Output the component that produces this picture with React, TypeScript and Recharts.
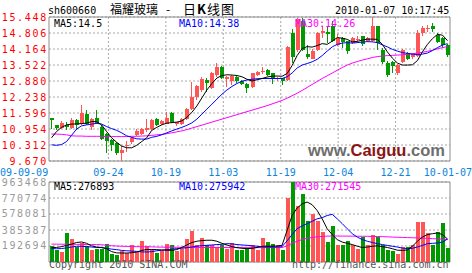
import React from 'react';
import {
  ComposedChart,
  Bar,
  Line,
  XAxis,
  YAxis,
  CartesianGrid,
  ReferenceArea,
} from 'recharts';

// trading days 2009-09-09 .. 2010-01-07
const dates = [
  '09-09', '09-10', '09-11', '09-14', '09-15', '09-16', '09-17', '09-18', '09-21', '09-22',
  '09-23', '09-24', '09-25', '09-28', '09-29', '09-30', '10-09', '10-12', '10-13', '10-14',
  '10-15', '10-16', '10-19', '10-20', '10-21', '10-22', '10-23', '10-26', '10-27', '10-28',
  '10-29', '10-30', '11-02', '11-03', '11-04', '11-05', '11-06', '11-09', '11-10', '11-11',
  '11-12', '11-13', '11-16', '11-17', '11-18', '11-19', '11-20', '11-23', '11-24', '11-25',
  '11-26', '11-27', '11-30', '12-01', '12-02', '12-03', '12-04', '12-07', '12-08', '12-09',
  '12-10', '12-11', '12-14', '12-15', '12-16', '12-17', '12-18', '12-21', '12-22', '12-23',
  '12-24', '12-25', '12-28', '12-29', '12-30', '12-31', '01-04', '01-05', '01-06', '01-07',
];

const open = [
  11.38, 11.10, 10.99, 11.12, 11.00, 11.30, 11.15, 11.55, 11.02, 11.40,
  11.05, 10.75, 10.50, 10.40, 9.98, 10.25, 10.41, 10.73, 10.73, 10.90,
  10.96, 11.36, 11.15, 11.16, 11.59, 11.13, 11.16, 11.35, 11.75, 12.24,
  12.50, 12.91, 12.60, 13.12, 13.45, 12.95, 12.90, 13.05, 12.88, 12.75,
  12.63, 13.12, 13.25, 13.32, 13.19, 12.95, 12.99, 12.95, 14.80, 14.10,
  15.30, 13.95, 13.79, 14.13, 14.80, 14.85, 15.10, 14.33, 14.60, 14.47,
  14.40, 14.55, 14.67, 14.47, 14.47, 15.07, 14.13, 13.62, 13.66, 13.18,
  13.66, 13.99, 13.82, 13.86, 14.80, 14.95, 15.07, 14.74, 14.60, 14.33,
];
const high = [
  11.40, 11.12, 11.27, 11.25, 11.38, 11.35, 11.93, 11.70, 11.40, 11.70,
  11.10, 10.80, 10.55, 10.42, 10.27, 10.48, 10.62, 10.95, 10.98, 11.35,
  11.36, 11.40, 11.30, 11.63, 11.62, 11.25, 11.38, 11.80, 12.85, 12.70,
  13.05, 13.00, 13.25, 13.62, 13.50, 13.10, 13.12, 13.10, 12.92, 12.78,
  13.22, 13.30, 13.46, 13.35, 13.20, 13.05, 13.00, 14.30, 14.95, 15.40,
  15.40, 14.33, 14.15, 14.85, 15.07, 15.07, 15.30, 14.75, 14.65, 14.50,
  14.65, 14.67, 14.70, 14.65, 15.448, 15.10, 14.20, 13.70, 13.70, 13.55,
  14.18, 14.05, 14.00, 14.92, 15.10, 15.14, 15.20, 14.80, 14.65, 14.36,
];
const low = [
  10.95, 10.92, 10.96, 10.90, 10.95, 10.93, 11.10, 11.10, 10.90, 11.15,
  10.50, 10.00, 10.08, 9.93, 9.67, 10.05, 10.35, 10.67, 10.70, 10.85,
  10.92, 11.08, 11.12, 11.14, 11.20, 11.08, 11.12, 11.30, 11.72, 12.10,
  12.45, 12.45, 12.55, 13.05, 12.95, 12.65, 12.70, 12.80, 12.70, 12.40,
  12.60, 13.08, 13.15, 13.10, 12.75, 12.90, 12.72, 12.90, 13.60, 14.05,
  14.10, 13.76, 13.75, 14.10, 14.60, 14.40, 14.45, 14.30, 14.20, 13.95,
  14.35, 14.40, 14.30, 14.45, 14.45, 14.13, 13.55, 13.05, 13.20, 13.12,
  13.60, 13.72, 13.78, 13.84, 14.70, 14.85, 14.85, 14.40, 14.20, 13.85,
];
const close = [
  11.30, 10.98, 11.20, 11.05, 11.32, 11.10, 11.60, 11.15, 11.35, 11.20,
  10.55, 10.48, 10.28, 9.98, 10.10, 10.30, 10.58, 10.88, 10.95, 11.00,
  11.32, 11.12, 11.27, 11.40, 11.23, 11.22, 11.36, 11.77, 12.24, 12.67,
  12.95, 12.78, 13.20, 13.45, 12.99, 13.05, 13.10, 12.89, 12.75, 12.58,
  13.19, 13.25, 13.30, 13.12, 12.99, 12.99, 12.85, 14.26, 13.85, 15.35,
  14.15, 13.82, 14.10, 14.80, 14.87, 14.78, 14.50, 14.60, 14.45, 14.05,
  14.60, 14.58, 14.33, 14.60, 15.07, 14.40, 13.66, 13.12, 13.50, 13.52,
  14.13, 13.76, 13.96, 14.80, 15.00, 15.00, 14.95, 14.47, 14.33, 13.93,
];

const ma5 = [
  10.60, 10.85, 11.02, 11.12, 11.15, 11.16, 11.17, 11.19, 11.25, 11.25,
  11.12, 10.85, 10.60, 10.42, 10.27, 10.20, 10.20, 10.30, 10.45, 10.60,
  10.90, 11.02, 11.12, 11.19, 11.21, 11.23, 11.28, 11.42, 11.62, 11.88,
  12.20, 12.52, 12.78, 13.00, 13.10, 13.13, 13.12, 13.10, 13.05, 12.95,
  12.88, 12.93, 12.98, 13.04, 13.07, 13.08, 13.07, 13.18, 13.50, 13.90,
  14.18, 14.26, 14.24, 14.30, 14.38, 14.35, 14.48, 14.62, 14.60, 14.55,
  14.45, 14.47, 14.52, 14.56, 14.56, 14.55, 14.35, 14.05, 13.80, 13.60,
  13.52, 13.52, 13.53, 13.70, 14.05, 14.35, 14.58, 14.75, 14.72, 14.5,
];
const ma10 = [
  10.32, 10.30, 10.33, 10.45, 10.70, 10.95, 11.08, 11.12, 11.15, 11.18,
  11.15, 11.05, 10.97, 10.90, 10.80, 10.68, 10.62, 10.56, 10.55, 10.55,
  10.62, 10.66, 10.72, 10.80, 10.88, 10.95, 11.02, 11.10, 11.20, 11.35,
  11.55, 11.75, 11.95, 12.15, 12.35, 12.52, 12.66, 12.78, 12.87, 12.92,
  12.95, 12.97, 12.98, 12.98, 12.98, 12.98, 12.98, 13.05, 13.20, 13.40,
  13.52, 13.58, 13.65, 13.75, 13.90, 14.08, 14.25, 14.35, 14.40, 14.42,
  14.40, 14.42, 14.44, 14.46, 14.45, 14.42, 14.33, 14.25, 14.15, 14.08,
  14.02, 13.99, 13.96, 13.94, 13.96, 14.00, 14.10, 14.22, 14.32, 14.38,
];
const ma30 = [
  10.75, 10.75, 10.74, 10.72, 10.68, 10.67, 10.67, 10.66, 10.66, 10.66,
  10.66, 10.65, 10.65, 10.65, 10.65, 10.65, 10.66, 10.66, 10.67, 10.68,
  10.70, 10.72, 10.74, 10.77, 10.80, 10.84, 10.88, 10.93, 10.99, 11.05,
  11.11, 11.17, 11.23, 11.29, 11.35, 11.41, 11.47, 11.53, 11.59, 11.65,
  11.71, 11.77, 11.83, 11.89, 11.96, 12.03, 12.10, 12.19, 12.29, 12.39,
  12.50, 12.62, 12.74, 12.86, 12.98, 13.09, 13.20, 13.31, 13.42, 13.52,
  13.60, 13.66, 13.72, 13.77, 13.82, 13.86, 13.88, 13.90, 13.91, 13.92,
  13.93, 13.95, 13.97, 14.00, 14.03, 14.07, 14.12, 14.17, 14.22, 14.26,
];

const volume = [
  189000, 140000, 125000, 345000, 273000, 185000, 233000, 189000, 140000, 157000,
  157000, 213000, 94000, 80000, 128000, 105000, 209000, 118000, 249000, 189000,
  145000, 108000, 132000, 213000, 201000, 132000, 161000, 273000, 369000, 209000,
  289000, 201000, 209000, 181000, 201000, 161000, 229000, 149000, 149000, 161000,
  201000, 140000, 289000, 241000, 221000, 201000, 140000, 775000, 963468, 670000,
  815000, 494000, 574000, 494000, 361000, 241000, 430000, 201000, 201000, 250000,
  200000, 160000, 300000, 200000, 320000, 300000, 200000, 140000, 130000, 100000,
  180000, 180000, 200000, 480000, 480000, 345000, 200000, 360000, 470000, 170000,
];
const volMa5 = [
  173000, 175000, 185000, 200000, 215000, 235000, 241000, 225000, 195000, 180000,
  175000, 160000, 125000, 110000, 108000, 108000, 112000, 120000, 140000, 150000,
  150000, 149000, 145000, 142000, 140000, 150000, 175000, 205000, 235000, 250000,
  258000, 262000, 262000, 250000, 225000, 205000, 185000, 173000, 165000, 161000,
  165000, 175000, 189000, 190000, 190000, 192000, 201000, 380000, 560000, 650000,
  700000, 722000, 690000, 620000, 520000, 400000, 330000, 270000, 240000, 225000,
  210000, 190000, 175000, 180000, 189000, 195000, 185000, 175000, 160000, 142000,
  140000, 145000, 190000, 250000, 300000, 330000, 341000, 350000, 330000, 276893,
];
const volMa10 = [
  161000, 160000, 162000, 170000, 180000, 189000, 189000, 185000, 180000, 175000,
  173000, 165000, 155000, 149000, 140000, 135000, 132000, 128000, 122000, 120000,
  125000, 135000, 142000, 148000, 155000, 161000, 165000, 172000, 181000, 190000,
  197000, 201000, 205000, 210000, 213000, 221000, 218000, 210000, 205000, 201000,
  195000, 190000, 181000, 180000, 180000, 180000, 185000, 255000, 330000, 401000,
  435000, 462000, 490000, 520000, 534000, 560000, 574000, 520000, 462000, 400000,
  341000, 300000, 270000, 250000, 235000, 221000, 210000, 200000, 190000, 180000,
  168000, 161000, 165000, 181000, 200000, 221000, 225000, 229000, 240000, 275942,
];
const volMa30 = [
  215000, 215000, 214000, 214000, 213000, 212000, 212000, 211000, 210000, 210000,
  208000, 200000, 196000, 192000, 190000, 188000, 186000, 185000, 184000, 183000,
  182000, 180000, 179000, 178000, 178000, 177000, 177000, 176000, 176000, 175000,
  175000, 175000, 175000, 174000, 174000, 174000, 174000, 173000, 173000, 173000,
  173000, 173000, 173000, 173000, 173000, 173000, 174000, 195000, 225000, 250000,
  270000, 285000, 295000, 303000, 308000, 312000, 313000, 313000, 312000, 312000,
  311000, 310000, 310000, 309000, 308000, 307000, 305000, 303000, 300000, 298000,
  296000, 294000, 292000, 290000, 287000, 284000, 281000, 278000, 275000, 271545,
];

const priceTicks = [9.67, 10.312, 10.954, 11.596, 12.238, 12.88, 13.522, 14.164, 14.806, 15.448];
const volumeTicks = [0, 192694, 385387, 578081, 770774, 963468];
const dateLabels = ['09-09-09', '09-24', '10-19', '11-03', '11-19', '12-04', '12-21', '10-01-07'];

const RED = '#ff5555';
const GREEN = '#009900';
const BLUE = '#0000ff';
const MAGENTA = '#ff00ff';
const GRID = '#a8a8a8';
const FRAME = '#8c8c8c';
const MONO = '"DejaVu Sans Mono", "Liberation Mono", monospace';

const rows = dates.map((date, i) => ({
  date,
  open: open[i],
  high: high[i],
  low: low[i],
  close: close[i],
  ma5: ma5[i],
  ma10: ma10[i],
  ma30: ma30[i],
  vol: volume[i],
  vma5: volMa5[i],
  vma10: volMa10[i],
  vma30: volMa30[i],
}));

// label slots along the date axis (the vertical grid sits on the inner ones)
const steps = dateLabels.map((label, k) => ({ k, label }));
const labelSteps = steps.map((s) => s.k);
const gridSteps = labelSteps.slice(1, -1);

const Candle = (props: any) => {
  const { x, y, width, height, payload } = props;
  const up = payload.close >= payload.open;
  const color = up ? RED : GREEN;
  const k = height / (payload.high - payload.low || 1);
  const yo = y + (payload.high - payload.open) * k;
  const yc = y + (payload.high - payload.close) * k;
  const rx = Math.round(x);
  const top = Math.round(Math.min(yo, yc));
  const h = Math.max(1, Math.round(Math.abs(yo - yc)));
  return (
    <g>
      <line x1={rx + 1.5} x2={rx + 1.5} y1={Math.round(y)} y2={Math.round(y + height)} stroke={color} />
      <rect x={rx} y={top} width={Math.round(width)} height={h} fill={color} />
    </g>
  );
};

const VolBar = (props: any) => {
  const { x, y, width, height, payload } = props;
  const top = Math.round(y);
  return (
    <rect
      x={Math.round(x)}
      y={top}
      width={Math.round(width)}
      height={Math.round(y + height) - top}
      fill={payload.close >= payload.open ? RED : GREEN}
    />
  );
};

const PriceTick = ({ x, y, payload }: any) => (
  <text x={x} y={y} dy={3.5} textAnchor="end" fill="#ff0000" fontSize={10} fontFamily={MONO} letterSpacing={1.7}>
    {Number(payload.value).toFixed(3)}
  </text>
);

const VolTick = ({ x, y, payload }: any) =>
  payload.value === 0 ? (
    <g />
  ) : (
    <text x={x} y={y} dy={3.5} textAnchor="end" fill="#999999" fontSize={10} fontFamily={MONO} letterSpacing={1.7}>
      {payload.value}
    </text>
  );

const DateTick = ({ x, y, payload }: any) => {
  const k = payload.value;
  const last = dateLabels.length - 1;
  const anchor = k === 0 ? 'start' : k === last ? 'end' : 'middle';
  const tx = k === 0 ? 0 : k === last ? 472 : x;
  return (
    <text x={tx} y={y} dy={14.5} textAnchor={anchor} fill="#0a84e0" fontSize={10} fontFamily={MONO}>
      {dateLabels[k]}
    </text>
  );
};

const text = (left: number, top: number, color: string, extra: React.CSSProperties = {}): React.CSSProperties => ({
  position: 'absolute',
  left,
  top,
  color,
  fontFamily: MONO,
  fontSize: 10,
  lineHeight: '12px',
  whiteSpace: 'pre',
  ...extra,
});

const layer: React.CSSProperties = { position: 'absolute', left: 0, top: 0 };
const last = dates.length - 1;

const App: React.FC = () => {
  return (
    <div style={{ position: 'absolute', left: 0, top: 0, width: 472, height: 273, background: '#fff', overflow: 'hidden' }}>
      {/* date axis + vertical grid, price panel */}
      <div style={layer}>
        <ComposedChart width={472} height={273} data={steps} margin={{ top: 17, right: 22, bottom: 92, left: 49 }}>
          <XAxis
            dataKey="k"
            type="number"
            domain={[0, 7]}
            ticks={labelSteps}
            interval={0}
            padding={{ left: 2, right: -3 }}
            height={20}
            axisLine={false}
            tickLine={false}
            tickSize={0}
            tickMargin={0}
            tick={<DateTick />}
          />
          <YAxis hide domain={[0, 1]} />
          <CartesianGrid horizontal={false} verticalValues={gridSteps} stroke={GRID} strokeDasharray="2 2" />
        </ComposedChart>
      </div>

      {/* vertical grid, volume panel */}
      <div style={layer}>
        <ComposedChart width={472} height={273} data={steps} margin={{ top: 182, right: 22, bottom: 11, left: 49 }}>
          <XAxis
            dataKey="k"
            type="number"
            domain={[0, 7]}
            ticks={labelSteps}
            padding={{ left: 2, right: -3 }}
            height={0}
            axisLine={false}
            tickLine={false}
            tick={false}
          />
          <YAxis hide domain={[0, 1]} />
          <CartesianGrid horizontal={false} verticalValues={gridSteps} stroke={GRID} strokeDasharray="2 2" />
        </ComposedChart>
      </div>

      {/* price panel */}
      <div style={layer}>
        <ComposedChart width={472} height={273} data={rows} margin={{ top: 17, right: 22, bottom: 112, left: 0 }}>
          <XAxis xAxisId="k" dataKey="date" hide />
          <YAxis
            yAxisId="p"
            domain={[9.67, 15.448]}
            allowDataOverflow
            ticks={priceTicks}
            interval={0}
            width={49}
            axisLine={false}
            tickLine={false}
            tickSize={0}
            tickMargin={1}
            tick={<PriceTick />}
          />
          <CartesianGrid xAxisId="k" yAxisId="p" vertical={false} stroke={GRID} strokeDasharray="2 2" />
          <ReferenceArea xAxisId="k" yAxisId="p" y1={9.67} y2={15.448} fill="none" fillOpacity={0} stroke={FRAME} />
          <Bar
            xAxisId="k"
            yAxisId="p"
            dataKey={(d: any) => [d.low, d.high]}
            barSize={4}
            shape={Candle}
            isAnimationActive={false}
          />
          <Line xAxisId="k" yAxisId="p" dataKey="ma30" stroke={MAGENTA} strokeWidth={1} dot={false} isAnimationActive={false} />
          <Line xAxisId="k" yAxisId="p" dataKey="ma10" stroke={BLUE} strokeWidth={1} dot={false} isAnimationActive={false} />
          <Line xAxisId="k" yAxisId="p" dataKey="ma5" stroke="#000" strokeWidth={1} dot={false} isAnimationActive={false} />
        </ComposedChart>
      </div>

      {/* volume panel */}
      <div style={layer}>
        <ComposedChart width={472} height={273} data={rows} margin={{ top: 182, right: 22, bottom: 11, left: 0 }}>
          <XAxis xAxisId="k" dataKey="date" hide />
          <YAxis
            yAxisId="v"
            domain={[0, 963468]}
            allowDataOverflow
            ticks={volumeTicks}
            interval={0}
            width={49}
            axisLine={false}
            tickLine={false}
            tickSize={0}
            tickMargin={1}
            tick={<VolTick />}
          />
          <CartesianGrid xAxisId="k" yAxisId="v" vertical={false} stroke={GRID} strokeDasharray="2 2" />
          <ReferenceArea xAxisId="k" yAxisId="v" y1={0} y2={963468} fill="none" fillOpacity={0} stroke={FRAME} />
          <Bar xAxisId="k" yAxisId="v" dataKey="vol" barSize={4} shape={VolBar} isAnimationActive={false} />
          <Line xAxisId="k" yAxisId="v" dataKey="vma30" stroke={MAGENTA} strokeWidth={1} dot={false} isAnimationActive={false} />
          <Line xAxisId="k" yAxisId="v" dataKey="vma10" stroke={BLUE} strokeWidth={1} dot={false} isAnimationActive={false} />
          <Line xAxisId="k" yAxisId="v" dataKey="vma5" stroke="#000" strokeWidth={1} dot={false} isAnimationActive={false} />
        </ComposedChart>
      </div>

      {/* header */}
      <div style={text(48, 5, '#000')}>sh600660</div>
      <div style={{ position: 'absolute', left: 110, top: 3, fontFamily: '"Noto Sans CJK SC", sans-serif', fontSize: 12, lineHeight: '12px', color: '#000', whiteSpace: 'pre' }}>
        福耀玻璃
      </div>
      <div style={{ position: 'absolute', left: 166, top: 3, fontFamily: '"Noto Sans CJK SC", sans-serif', fontSize: 12, lineHeight: '12px', color: '#000' }}>
        -
      </div>
      <div style={{ position: 'absolute', left: 183, top: 3, fontFamily: '"Noto Sans CJK SC", sans-serif', fontSize: 13, lineHeight: '12px', color: '#000', whiteSpace: 'pre', letterSpacing: 1 }}>
        日<b>K</b>线图
      </div>
      <div style={text(335, 5, '#000')}>2010-01-07 10:17:45</div>

      {/* price legend */}
      <div style={text(54, 17.5, '#000')}>{`MA5:${ma5[last]}`}</div>
      <div style={text(179, 17.5, BLUE)}>{`MA10:${ma10[last]}`}</div>
      <div style={text(295, 17.5, MAGENTA)}>{`MA30:${ma30[last]}`}</div>

      {/* volume legend */}
      <div style={text(54, 180.5, '#000')}>{`MA5:${volMa5[last]}`}</div>
      <div style={text(179, 180.5, BLUE)}>{`MA10:${volMa10[last]}`}</div>
      <div style={text(295, 180.5, MAGENTA)}>{`MA30:${volMa30[last]}`}</div>

      {/* watermark */}
      <div
        style={{
          position: 'absolute',
          left: 308,
          top: 142,
          fontFamily: '"Liberation Sans", Arial, sans-serif',
          fontWeight: 'bold',
          fontSize: 16.5,
          lineHeight: '17px',
          whiteSpace: 'pre',
          color: '#6e6e6e',
        }}
      >
        www.<span style={{ color: '#8b1515' }}>Caiguu</span>.com
      </div>

      {/* footer */}
      <div style={text(49, 258.5, '#555')}>Copyright 2010 SINA.COM</div>
      <div style={text(292, 258.5, '#555')}>http://finance.sina.com.cn</div>
    </div>
  );
};

export default App;
